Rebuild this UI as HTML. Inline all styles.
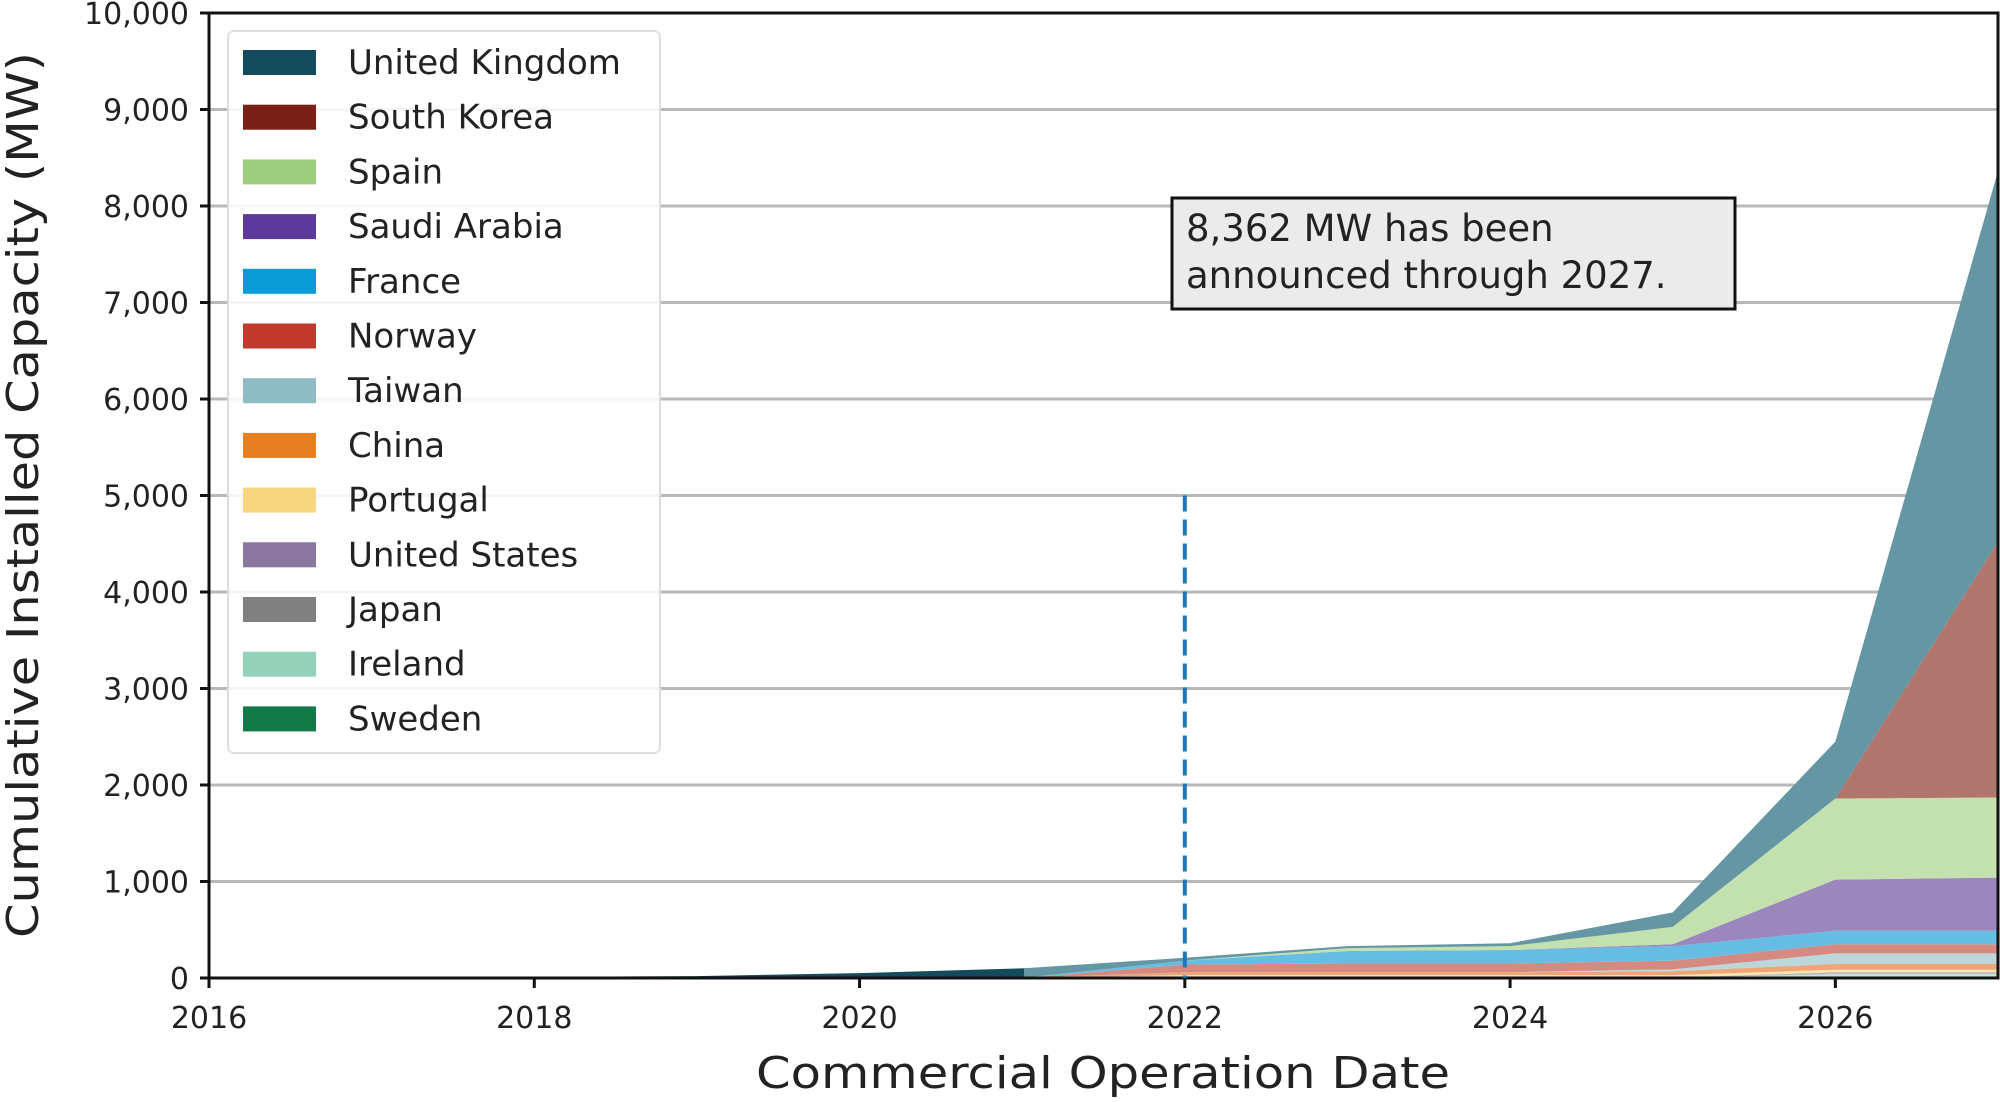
<!DOCTYPE html>
<html><head><meta charset="utf-8"><style>
html,body{margin:0;padding:0;background:#fff;}
svg{display:block;font-family:"DejaVu Sans","Liberation Sans",sans-serif;}
</style></head><body>
<svg id="chart" width="2000" height="1102" viewBox="0 0 2000 1102" xmlns="http://www.w3.org/2000/svg">
<defs>
<clipPath id="clipActual"><rect x="0" y="0" width="1025" height="1102"/></clipPath>
<clipPath id="clipAnnounced"><rect x="1024" y="0" width="976" height="1102"/></clipPath>
</defs>
<g id="grid"></g>
<g id="areas"></g>
<g id="axes"></g>
<line id="marker" stroke="#1f77b4" stroke-width="4" stroke-dasharray="16,8"/>
<g>
<rect x="1172" y="198" width="563" height="111" fill="#ebebeb" stroke="#111" stroke-width="3"/>
<text x="1186" y="241" font-size="37" fill="#222">8,362 MW has been</text>
<text x="1186" y="288" font-size="37" fill="#222">announced through 2027.</text>
</g>
<g id="legend"></g>
<text x="1103" y="1088" font-size="44" fill="#222" text-anchor="middle" textLength="694" lengthAdjust="spacingAndGlyphs">Commercial Operation Date</text>
<text transform="translate(38,495) rotate(-90)" font-size="44" fill="#222" text-anchor="middle" textLength="886" lengthAdjust="spacingAndGlyphs">Cumulative Installed Capacity (MW)</text>
</svg>
<script>
const years = [2016,2017,2018,2019,2020,2021,2022,2023,2024,2025,2026,2027];
const seriesNames = ["Sweden","Ireland","Japan","United States","Portugal","China","Taiwan","Norway","France","Saudi Arabia","Spain","South Korea","United Kingdom"];
const sweden   = [0,0,0,0,0,0,0,0,0,0,10,10];
const ireland  = [0,0,0,0,0,0,0,0,0,0,30,30];
const japan    = [0,0,0,0,0,0,5,5,5,5,10,10];
const usa      = [0,0,0,0,0,0,0,0,0,0,10,10];
const portugal = [0,0,0,0,0,0,25,25,25,25,25,25];
const china    = [0,0,0,0,0,0,30,30,30,40,60,60];
const taiwan   = [0,0,0,0,0,0,0,0,0,20,110,110];
const norway   = [0,0,0,0,0,0,80,90,90,90,95,95];
const france   = [0,0,0,0,0,0,40,130,140,150,140,140];
const saudi    = [0,0,0,0,0,0,0,0,0,20,530,550];
const spain    = [0,0,0,0,0,0,0,30,40,180,840,830];
const skorea   = [0,0,0,0,0,0,0,0,0,0,0,2650];
const uk       = [0,5,10,20,50,100,30,20,30,150,590,3842];
const xTicks = [2016,2018,2020,2022,2024,2026];
const yTicks = [0,1000,2000,3000,4000,5000,6000,7000,8000,9000,10000];
const markerYear = 2022;
const markerTop = 5000;

const seriesValues = [sweden,ireland,japan,usa,portugal,china,taiwan,norway,france,saudi,spain,skorea,uk];
const solidColors = ["#117a48","#94d1b8","#808080","#8a76a0","#f7d67f","#e67e22","#8fbcc4","#c0392b","#0a9bd6","#5b3a9b","#9fcd7e","#7a1f16","#134a5c"];
const lightColors = ["#6fb394","#c3e6d7","#b5b5b5","#b5a9c5","#f9e4ae","#eea676","#bcd7dc","#d48a80","#66bde3","#9b86bd","#c3e1ae","#b0766e","#6596a3"];

const L=209, R=1998, T=13, B=978;
const x = v => L + (v-2016)/(2027-2016)*(R-L);
const y = v => B - v/10000*(B-T);
const NS="http://www.w3.org/2000/svg";
function mk(tag, attrs, parent){const e=document.createElementNS(NS,tag);for(const k in attrs)e.setAttribute(k,attrs[k]);parent.appendChild(e);return e;}

const grid=document.getElementById('grid');
yTicks.forEach(t=>{ if(t===0) return;
  const g=mk('line',{x1:L,x2:R,y1:y(t),y2:y(t),stroke:'#b8b8b8','stroke-width':3},grid);
  
  
});

const areas=document.getElementById('areas');
let base=years.map(()=>0);
seriesValues.forEach((vals,i)=>{
  const top=base.map((b,j)=>b+vals[j]);
  let d='M'+years.map((yr,j)=>x(yr)+','+y(top[j])).join('L');
  for(let j=years.length-1;j>=0;j--) d+='L'+x(years[j])+','+y(base[j]);
  d+='Z';
  const p1=mk('path',{d:d,fill:solidColors[i],'clip-path':'url(#clipActual)'},areas);
  
  
  const p2=mk('path',{d:d,fill:lightColors[i],'clip-path':'url(#clipAnnounced)'},areas);
  
  
  base=top;
});

const axes=document.getElementById('axes');
const frame=mk('rect',{x:L,y:T,width:R-L,height:B-T,fill:'none',stroke:'#111','stroke-width':3},axes);


yTicks.forEach(t=>{
  const tk=mk('line',{x1:L-9,x2:L,y1:y(t),y2:y(t),stroke:'#111','stroke-width':3},axes);
  
  
  const tx=mk('text',{x:L-20,y:y(t)+11,'font-size':30,fill:'#222','text-anchor':'end'},axes);
  
  
  tx.textContent=t.toLocaleString('en-US');
});
xTicks.forEach(t=>{
  const tk=mk('line',{x1:x(t),x2:x(t),y1:B,y2:B+10,stroke:'#111','stroke-width':3},axes);
  
  
  const tx=mk('text',{x:x(t),y:B+50,'font-size':30,fill:'#222','text-anchor':'middle'},axes);
  
  
  tx.textContent=t;
});

const m=document.getElementById('marker');
m.setAttribute('x1',x(markerYear));m.setAttribute('x2',x(markerYear));
m.setAttribute('y1',y(markerTop));m.setAttribute('y2',y(0));

const legend=document.getElementById('legend');
const lb=mk('rect',{x:228,y:31,width:432,height:722,rx:6,fill:'#ffffff','fill-opacity':0.85,stroke:'#dddddd','stroke-width':2},legend);


for(let k=0;k<seriesNames.length;k++){
  const i=seriesNames.length-1-k;
  const cy=62+k*54.7;
  const g=mk('g',{},legend);
  
  
  mk('rect',{x:243,y:cy-12,width:73,height:25,fill:solidColors[i]},g);
  const t=mk('text',{x:348,y:cy+12,'font-size':34,fill:'#222'},g);
  t.textContent=seriesNames[i];
}
</script>
</body></html>
